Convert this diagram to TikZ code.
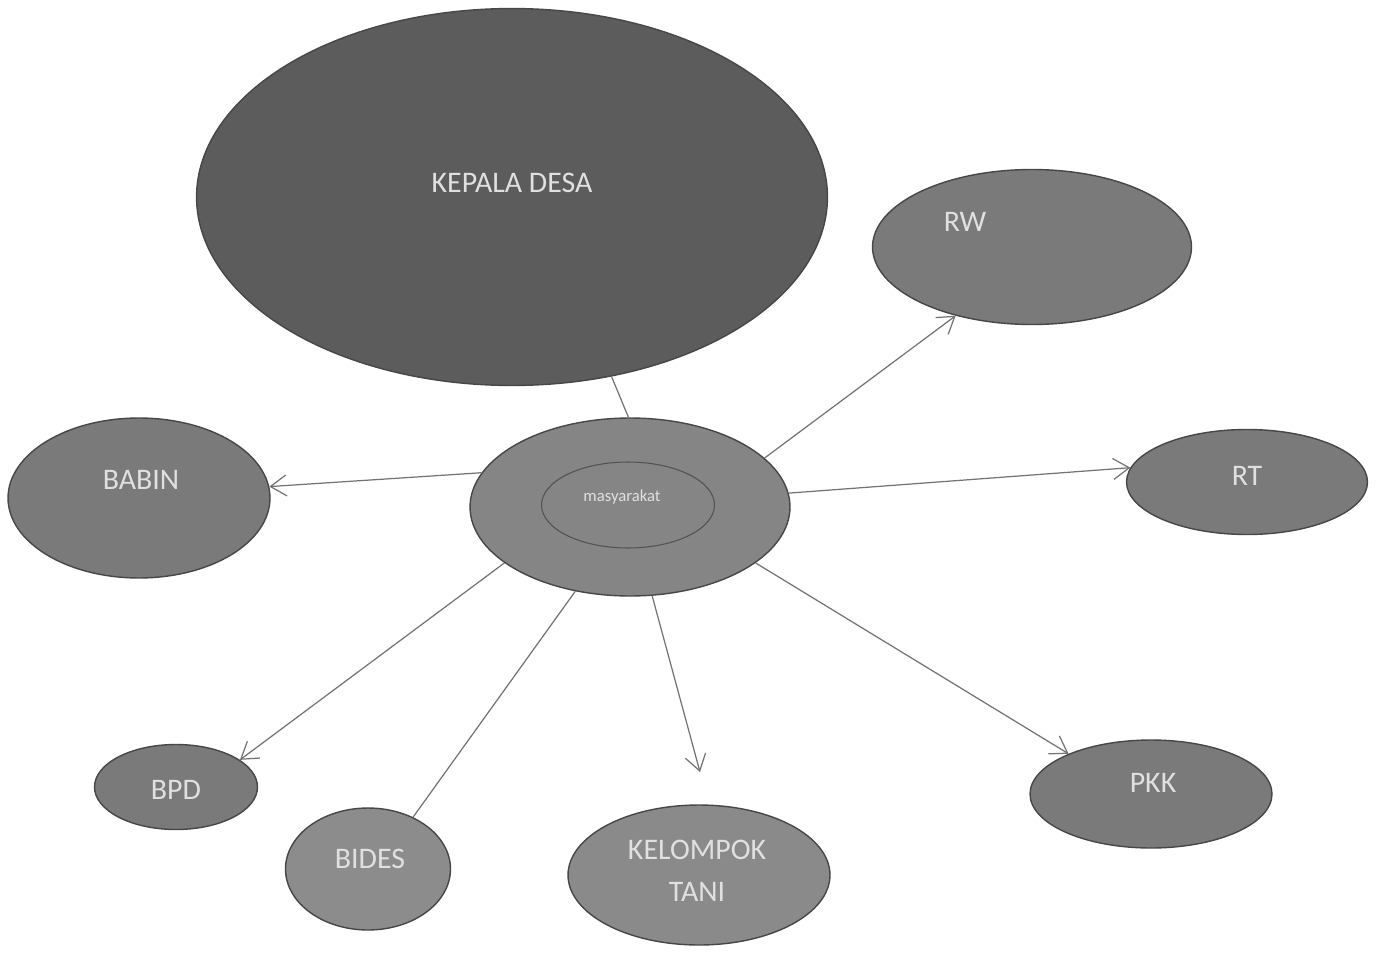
\documentclass[tikz,border=0pt]{standalone}
\usepackage{fontspec}
\setmainfont{Carlito}
\usetikzlibrary{shapes.geometric,arrows.meta}

\tikzset{
  blob/.style={ellipse, draw=black!72, line width=0.8pt, fill=black!52, inner sep=0pt},
  lbl/.style={text=white!88!black, font=\fontsize{17}{20}\selectfont, align=center},
  link/.style={draw=black!55, line width=0.7pt},
  arr/.style={link, -{Straight Barb[length=3.2mm, width=4.2mm]}}
}

\begin{document}
\begin{tikzpicture}[x=0.02cm, y=-0.02cm]
  \useasboundingbox (0,0) rectangle (1382,953);

  % Ellipses
  \node[blob, fill=black!64, minimum width=12.62cm, minimum height=7.54cm] (kd) at (512,197) {};
  \node[blob, minimum width=6.38cm, minimum height=3.1cm] (rw) at (1032,247) {};
  \node[blob, minimum width=4.82cm, minimum height=2.1cm] (rt) at (1247,482) {};
  \node[blob, fill=black!48, minimum width=6.4cm, minimum height=3.56cm] (masy) at (630,507) {};
  \node[ellipse, draw=black!68, line width=0.6pt, minimum width=3.46cm, minimum height=1.72cm] (inner) at (628,505) {};
  \node[blob, minimum width=5.24cm, minimum height=3.2cm] (babin) at (139,498) {};
  \node[blob, minimum width=3.26cm, minimum height=1.7cm] (bpd) at (176,787) {};
  \node[blob, fill=black!45, minimum width=3.3cm, minimum height=2.44cm] (bides) at (368,869) {};
  \node[blob, fill=black!46, minimum width=5.24cm, minimum height=2.8cm] (kt) at (699,875) {};
  \node[blob, minimum width=4.84cm, minimum height=2.16cm] (pkk) at (1151,794) {};

  % Labels
  \node[lbl] (kd-t) at (512,183) {KEPALA DESA};
  \node[lbl] (rw-t) at (965,222) {RW};
  \node[lbl] (rt-t) at (1247,476) {RT};
  \node[lbl, font=\fontsize{9.5}{11}\selectfont] (masy-t) at (622,497) {masyarakat};
  \node[lbl] (babin-t) at (141,480) {BABIN};
  \node[lbl] (bpd-t) at (176,790) {BPD};
  \node[lbl] (bides-t) at (370,859) {BIDES};
  \node[lbl] (kt-t) at (697,871) {KELOMPOK\\[4pt]TANI};
  \node[lbl] (pkk-t) at (1153,783) {PKK};

  % Connectors
  \coordinate (kt-end) at (700,772);
  \draw[link] (masy.91) -- (kd.-61);
  \draw[arr] (masy.20) -- (rw.222);
  \draw[arr] (masy.5) -- (rt.173);
  \draw[arr] (masy.167) -- (babin.5);
  \draw[arr] (masy.204) -- (bpd.23);
  \draw[link] (masy.237) -- (bides.49);
  \draw[arr] (masy.284) -- (kt-end);
  \draw[arr] (masy.336) -- (pkk.154);
\end{tikzpicture}
\end{document}
